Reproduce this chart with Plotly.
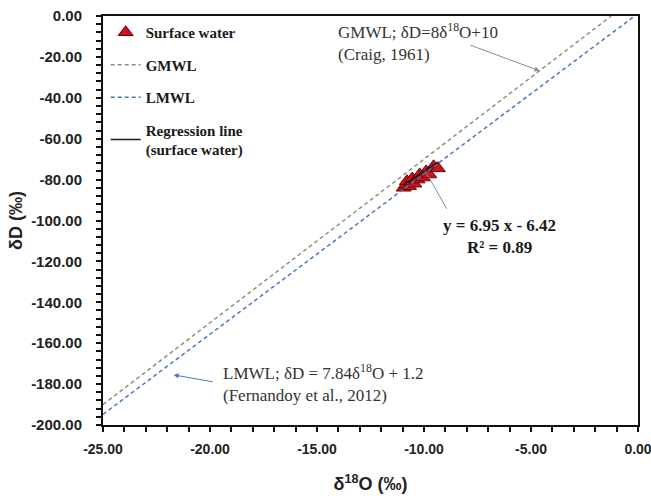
import plotly.graph_objects as go

# Surface water samples (δ18O, δD in ‰)
sw_d18o = [-10.95, -10.85, -10.80, -10.70, -10.60, -10.55, -10.45, -10.30,
           -10.20, -10.05, -9.90, -9.75, -9.55, -9.35]
sw_dd = [-84.0, -82.5, -80.8, -83.2, -81.0, -79.5, -82.0, -80.0,
         -77.5, -79.0, -76.0, -77.5, -73.5, -74.5]

# Meteoric water lines and regression (slope, intercept)
gmwl_slope, gmwl_icpt = 8.0, 10.0
lmwl_slope, lmwl_icpt = 7.84, 1.2
reg_slope, reg_icpt = 6.95, -6.42
reg_r2 = 0.89

x_min, x_max = -25.0, 0.0
y_min, y_max = -200.0, 0.0

x_ticks = [-25, -20, -15, -10, -5, 0]
x_ticktext = ["-25.00", "-20.00", "-15.00", "-10.00", "-5.00", "0.00"]
y_ticks = [0, -20, -40, -60, -80, -100, -120, -140, -160, -180, -200]
y_ticktext = ["0.00", "-20.00", "-40.00", "-60.00", "-80.00", "-100.00",
              "-120.00", "-140.00", "-160.00", "-180.00", "-200.00"]


def line_span(slope, icpt):
    # clip the line to the plotting window (x from x_min until δD reaches 0)
    x_end = min(x_max, (y_max - icpt) / slope)
    return [x_min, x_end], [slope * x_min + icpt, slope * x_end + icpt]


gx, gy = line_span(gmwl_slope, gmwl_icpt)
lx, ly = line_span(lmwl_slope, lmwl_icpt)
rx = [min(sw_d18o), max(sw_d18o)]
ry = [reg_slope * v + reg_icpt for v in rx]

serif = "Liberation Serif"
sans = "Liberation Sans"

fig = go.Figure()
fig.add_trace(go.Scatter(
    x=sw_d18o, y=sw_dd, mode="markers", name="Surface water",
    legendgroup="a",
    marker=dict(symbol="triangle-up", size=13, color="#c8141c",
                line=dict(color="#6e0000", width=1)),
))
fig.add_trace(go.Scatter(
    x=gx, y=gy, mode="lines", name="GMWL", legendgroup="b",
    line=dict(color="#8e8e84", width=1.5, dash="4px,3px"),
))
fig.add_trace(go.Scatter(
    x=lx, y=ly, mode="lines", name="LMWL", legendgroup="c",
    line=dict(color="#4a78c4", width=1.5, dash="4px,3px"),
))
fig.add_trace(go.Scatter(
    x=rx, y=ry, mode="lines", name="Regression line<br>(surface water)",
    legendgroup="d",
    line=dict(color="#1a1a1a", width=1.5),
))

ann_font = dict(family=serif, size=17, color="#333333")
fig.add_annotation(
    x=-4.6, y=gmwl_slope * -4.6 + gmwl_icpt, ax=-7.9, ay=-14.0,
    xref="x", yref="y", axref="x", ayref="y",
    text="", showarrow=True, arrowhead=2, arrowsize=1, arrowwidth=1,
    arrowcolor="#8a8a8a",
)
fig.add_annotation(
    x=-14.1, y=-1.0, xref="x", yref="y", xanchor="left", yanchor="top",
    align="left", showarrow=False, font=ann_font,
    text="GMWL; δD=8δ<sup>18</sup>O+10<br>(Craig, 1961)",
)
fig.add_annotation(
    x=-21.7, y=-175.5, ax=-19.8, ay=-179.0,
    xref="x", yref="y", axref="x", ayref="y",
    text="", showarrow=True, arrowhead=2, arrowsize=1, arrowwidth=1,
    arrowcolor="#4a78c4",
)
fig.add_annotation(
    x=-19.5, y=-179.5, xref="x", yref="y", xanchor="left", yanchor="middle",
    align="left", showarrow=False, font=ann_font,
    text="LMWL; δD = 7.84δ<sup>18</sup>O + 1.2<br>(Fernandoy et al., 2012)",
)
fig.add_annotation(
    x=-9.95, y=reg_slope * -9.95 + reg_icpt, ax=-8.9, ay=-95.0,
    xref="x", yref="y", axref="x", ayref="y",
    text="", showarrow=True, arrowhead=0, arrowwidth=1, arrowcolor="#8a8a8a",
)
fig.add_annotation(
    x=-6.45, y=-97.0, xref="x", yref="y", xanchor="center", yanchor="top",
    align="center", showarrow=False,
    font=dict(family=serif, size=17, color="#1a1a1a", weight="bold"),
    text=f"y = {reg_slope:.2f} x - {abs(reg_icpt):.2f}<br>R² = {reg_r2:.2f}",
)

axis_common = dict(
    showline=True, linecolor="#111111", linewidth=2, mirror=True,
    showgrid=False, zeroline=False, ticks="outside", ticklen=5,
    tickwidth=2, tickcolor="#111111", automargin=False,
    ticklabeloverflow="allow",
)

fig.update_xaxes(
    range=[x_min, x_max], tickvals=x_ticks, ticktext=x_ticktext,
    tickfont=dict(family=sans, size=14, color="#222222", weight="bold"),
    minor=dict(dtick=1, ticks="outside", ticklen=5, tickwidth=2,
               tickcolor="#111111"),
    ticklabelstandoff=5,
    title=dict(text="δ<sup>18</sup>O (‰)", standoff=22,
               font=dict(family=sans, size=18, color="#222222",
                         weight="bold")),
    **axis_common,
)
fig.update_yaxes(
    range=[y_min, y_max], tickvals=y_ticks, ticktext=y_ticktext,
    tickfont=dict(family=sans, size=15, color="#222222", weight="bold"),
    minor=dict(dtick=4, ticks="outside", ticklen=5, tickwidth=2,
               tickcolor="#111111"),
    ticklabelstandoff=11,
    title=dict(text="δD (‰)", standoff=4,
               font=dict(family=sans, size=18, color="#222222",
                         weight="bold")),
    **axis_common,
)

fig.update_layout(
    width=651, height=500,
    margin=dict(l=103, r=13, t=16, b=75),
    paper_bgcolor="white", plot_bgcolor="white",
    showlegend=True,
    legend=dict(
        x=0.005, y=1.0, xanchor="left", yanchor="top",
        bgcolor="rgba(0,0,0,0)", traceorder="grouped", tracegroupgap=10,
        font=dict(family=serif, size=15, color="#1a1a1a", weight="bold"),
        itemwidth=30,
    ),
)

fig.write_html("out.html")
